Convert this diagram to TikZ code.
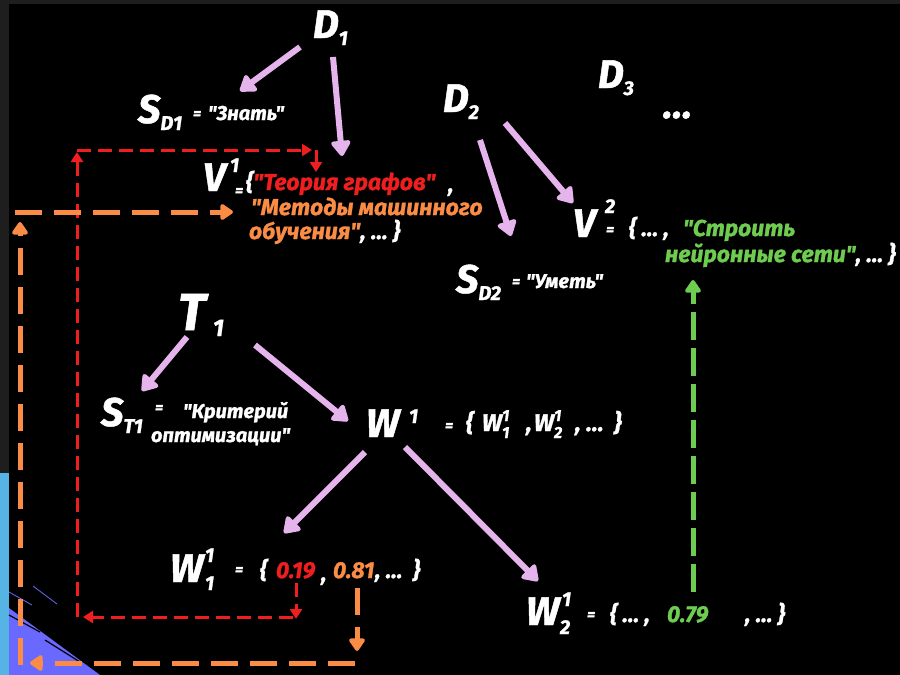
\documentclass[tikz,border=0pt]{standalone}
\usepackage{fontspec}
\setmainfont{Fira Sans}[Ligatures=TeXOff, BoldItalicFeatures={FakeBold=1.2}]
\usetikzlibrary{arrows.meta}
\definecolor{lav}{RGB}{230,180,236}
\definecolor{myred}{RGB}{240,30,30}
\definecolor{myorange}{RGB}{250,140,70}
\definecolor{mygreen}{RGB}{110,205,80}
\definecolor{edgegray}{RGB}{30,30,30}
\definecolor{edgeblue}{RGB}{85,180,228}
\definecolor{edgepurple}{RGB}{105,105,255}
\newcommand\lsub[1]{\raisebox{-7pt}{\fontsize{20}{20}\selectfont #1}}
\newcommand\tinysupsub[2]{\rlap{\raisebox{10pt}{\fontsize{16}{16}\selectfont #1}}\raisebox{-7pt}{\fontsize{16}{16}\selectfont #2}}
\tikzset{
  lbl/.style={anchor=base west, inner sep=0pt, outer sep=0pt, text=white},
  bigf/.style={font=\fontsize{40}{40}\selectfont\bfseries\itshape},
  hugef/.style={font=\fontsize{52}{52}\selectfont\bfseries\itshape},
  subf/.style={font=\fontsize{20}{20}\selectfont\bfseries\itshape},
  midf/.style={font=\fontsize{23}{25}\selectfont\bfseries\itshape},
  setf/.style={font=\fontsize{24}{26}\selectfont\bfseries\itshape},
  smallf/.style={font=\fontsize{20}{22}\selectfont\bfseries\itshape},
  eqf/.style={font=\fontsize{16}{16}\selectfont\bfseries\itshape},
  lavarrow/.style={draw=lav, line width=6pt, -{Triangle[width=22pt,length=17pt,round]}},
  redarrow/.style={draw=myred, line width=3pt, dash pattern=on 14pt off 7pt, -{Triangle[width=12pt,length=10pt]}},
  orarrow/.style={draw=myorange, line width=5pt, dash pattern=on 27pt off 12pt, -{Triangle[width=18pt,length=14pt,round]}},
  grarrow/.style={draw=mygreen, line width=5pt, dash pattern=on 28pt off 8pt, -{Triangle[width=18pt,length=14pt,round]}},
}
\begin{document}
\begin{tikzpicture}[x=1pt,y=-1pt]
\useasboundingbox (0,0) rectangle (900,675);
% background and edges
\fill[black] (0,0) rectangle (900,675);
\fill[edgegray] (0,0) rectangle (900,4);
\fill[edgegray] (0,0) rectangle (9,473);
\fill[edgeblue] (0,473) rectangle (9,675);
\fill[edgepurple] (9,608) -- (100,675) -- (9,675) -- cycle;
\draw[edgepurple, line width=0.8pt] (9,592) -- (32,605);
\draw[edgepurple, line width=0.8pt] (33,586) -- (57,604);
\draw[black, line width=1.2pt] (9,615) -- (40,632);
\draw[black, line width=1.2pt] (45,640) -- (80,662);

% ----- D nodes
\node[lbl,bigf] (D1) at (313,38) {D\lsub{1}};
\node[lbl,bigf] (D2) at (443,112) {D\lsub{2}};
\node[lbl,bigf] (D3) at (598,88) {D\lsub{3}};
\node[lbl,bigf] (dots) at (663,118) {…};

% ----- S_D1
\node[lbl,bigf] (SD1) at (138,123) {S\lsub{D1}};
\node[lbl,eqf] (SD1eq) at (193,119) {=};
\node[lbl,smallf] (SD1t) at (208,120) {"Знать"};

% ----- V1
\node[lbl,bigf] (V1) at (203,191) {V};
\node[lbl,subf] (V1s) at (230,172) {1};
\node[lbl,eqf] (V1eq) at (235,196) {=};
\node[lbl,midf] (V1a) at (246,190) {\{\textcolor{myred}{"Теория графов"}};
\node[lbl,midf] (V1c) at (448,192) {,};
\node[lbl,midf,text=myorange] (V1b) at (251,215) {"Методы машинного};
\node[lbl,midf] (V1d) at (249,239) {\textcolor{myorange}{обучения"}, … \}};

% ----- V2
\node[lbl,bigf] (V2) at (573,237) {V};
\node[lbl,subf] (V2s) at (605,213) {2};
\node[lbl,eqf] (V2eq) at (606,235) {=};
\node[lbl,midf] (V2a) at (629,236) {\{ … ,};
\node[lbl,midf,text=mygreen] (V2b) at (683,236) {"Строить};
\node[lbl,midf] (V2c) at (665,262) {\textcolor{mygreen}{нейронные сети"}, … \}};

% ----- S_D2
\node[lbl,bigf] (SD2) at (456,293) {S\lsub{D2}};
\node[lbl,eqf] (SD2eq) at (512,287) {=};
\node[lbl,smallf] (SD2t) at (526,288) {"Уметь"};

% ----- T1
\node[lbl,hugef] (T1) at (178,330) {T};
\node[lbl,font=\fontsize{24}{24}\selectfont\bfseries\itshape] (T1s) at (213,336) {1};

% ----- S_T1
\node[lbl,bigf] (ST1) at (101,426) {S\lsub{T1}};
\node[lbl,eqf] (ST1eq) at (155,413) {=};
\node[lbl,smallf] (ST1a) at (183,418) {"Критерий};
\node[lbl,smallf] (ST1b) at (151,442) {оптимизации"};

% ----- W1
\node[lbl,bigf] (W1) at (366,437) {W};
\node[lbl,subf] (W1s) at (409,423) {1};
\node[lbl,eqf] (W1eq) at (445,431) {=};
\node[lbl,setf] (W1br) at (466,431) {\{};
\node[lbl,setf] (W1a) at (482,431) {W\tinysupsub{1}{1}};
\node[lbl,setf] (W1c) at (526,431) {,};
\node[lbl,setf] (W1b) at (534,431) {W\tinysupsub{1}{2}};
\node[lbl,setf] (W1d) at (575,431) {, …};
\node[lbl,setf] (W1e) at (614,431) {\}};

% ----- W11
\node[lbl,bigf] (W11) at (170,582) {W};
\node[lbl,subf] (W11a) at (205,562) {1};
\node[lbl,subf] (W11b) at (205,590) {1};
\node[lbl,eqf] (W11eq) at (235,575) {=};
\node[lbl,midf] (W11br) at (260,578) {\{};
\node[lbl,midf,text=myred] (n019) at (276,578) {0.19};
\node[lbl,midf] (W11c1) at (321,581) {,};
\node[lbl,midf,text=myorange] (n081) at (333,578) {0.81};
\node[lbl,midf] (W11c2) at (375,578) {, … \ \}};
\coordinate (v019) at (296,583);
\coordinate (v081) at (357,588);

% ----- W21
\node[lbl,bigf] (W21) at (526,625) {W};
\node[lbl,subf] (W21a) at (562,606) {1};
\node[lbl,subf] (W21b) at (560,634) {2};
\node[lbl,eqf] (W21eq) at (587,620) {=};
\node[lbl,midf] (W21a2) at (610,622) {\{ … ,};
\node[lbl,midf,text=mygreen] (v079) at (667,622) {0.79};
\node[lbl,midf] (W21c) at (745,622) {, … \}};

% ----- lavender arrows
\coordinate (a1s) at (300,47);  \coordinate (a1e) at (240,91);
\coordinate (a2s) at (333,57);  \coordinate (a2e) at (342,156);
\coordinate (a3s) at (480,140); \coordinate (a3e) at (511,236);
\coordinate (a4s) at (505,123); \coordinate (a4e) at (573,203);
\coordinate (a5s) at (187,337); \coordinate (a5e) at (142,391);
\coordinate (a6s) at (255,345); \coordinate (a6e) at (348,421);
\coordinate (a7s) at (365,452); \coordinate (a7e) at (284,533);
\coordinate (a8s) at (405,447); \coordinate (a8e) at (538,581);
\draw[lavarrow] (a1s) -- (a1e);
\draw[lavarrow] (a2s) -- (a2e);
\draw[lavarrow] (a3s) -- (a3e);
\draw[lavarrow] (a4s) -- (a4e);
\draw[lavarrow] (a5s) -- (a5e);
\draw[lavarrow] (a6s) -- (a6e);
\draw[lavarrow] (a7s) -- (a7e);
\draw[lavarrow] (a8s) -- (a8e);

% ----- red dashed path
\coordinate (r1) at (296,619);
\coordinate (r2s) at (293,617); \coordinate (r2e) at (83,617);
\coordinate (r3s) at (77,617);  \coordinate (r3e) at (77,152);
\coordinate (r4s) at (77,150);  \coordinate (r4e) at (312,150);
\coordinate (r5s) at (316,150); \coordinate (r5e) at (316,172);
\draw[redarrow] (v019) -- (r1);
\draw[redarrow] (r2s) -- (r2e);
\draw[redarrow] (r3s) -- (r3e);
\draw[redarrow] (r4s) -- (r4e);
\draw[redarrow, dash pattern=] (r5s) -- (r5e);

% ----- orange dashed path
\coordinate (o1) at (357,651);
\coordinate (o2s) at (355,663); \coordinate (o2e) at (30,663);
\coordinate (o3s) at (20,665);  \coordinate (o3e) at (20,222);
\coordinate (o4s) at (15,212);  \coordinate (o4e) at (233,212);
\draw[orarrow] (v081) -- (o1);
\draw[orarrow] (o2s) -- (o2e);
\draw[orarrow] (o3s) -- (o3e);
\draw[orarrow] (o4s) -- (o4e);

% ----- green dashed arrow
\coordinate (g1) at (693,592);
\coordinate (g2) at (693,280);
\draw[grarrow] (g1) -- (g2);
\end{tikzpicture}
\end{document}
